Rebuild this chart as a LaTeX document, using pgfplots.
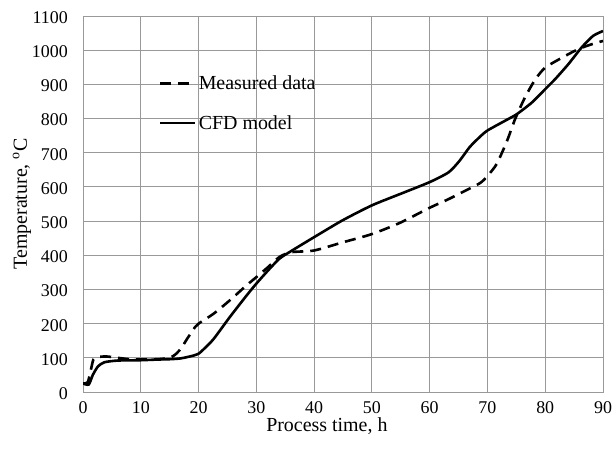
\documentclass[border=0pt]{standalone}
\usepackage{pgfplots}
\pgfplotsset{compat=1.18}
\usepackage{fontspec}
\setmainfont{Liberation Serif}
\begin{document}
\begin{tikzpicture}
\begin{axis}[
  at={(83bp,70bp)}, anchor=south west,
  scale only axis, width=520bp, height=376bp,
  xmin=0, xmax=90, ymin=0, ymax=1100,
  xtick={0,10,...,90}, ytick={0,100,...,1100},
  grid=major, grid style={draw=black!40, line width=0.9bp},
  axis line style={draw=black!40, line width=0.9bp},
  major tick length=0pt,
  tick label style={font=\fontsize{18}{20}\selectfont},
  /pgf/number format/assume math mode=true,
  /pgf/number format/set thousands separator={},
  xticklabel style={anchor=base, yshift=-21bp},
  yticklabel style={anchor=east, inner xsep=0pt, xshift=-15bp, yshift=-1.5bp},
  label style={font=\fontsize{20}{24}\selectfont},
  xlabel={Process time, h},
  ylabel={Temperature, \textsuperscript{o}C},
  xlabel style={at={(axis description cs:0.469,-0.106)}, anchor=base},
  ylabel style={at={(axis description cs:-0.108,0.5)}, anchor=base},
  legend style={draw=none, fill=none, at={(axis cs:13.15,925)}, anchor=north west,
    inner sep=0pt, font=\fontsize{20}{24}\selectfont, row sep=24bp,
    nodes={inner sep=0pt}, /tikz/every odd column/.append style={column sep=2bp}},
  legend cell align=left,
  legend image code/.code={\draw[#1] (0bp,0bp) -- (35bp,0bp);},
]
\addplot[black, line width=2.6bp, dash pattern=on 11bp off 7bp, smooth, tension=0.4] coordinates {
(0,25) (0.8,28) (1.3,60) (1.8,95) (2.5,102) (4,104) (6,100) (8,96) (10,95) (13,96) (15,100) (16,110) (17,128) (18,155) (19.4,190) (20,200) (22.6,229) (25.4,268) (28.3,312) (30,336) (32,365) (34,395) (36,409) (40,414) (45,438) (50,462) (55,496) (60,539) (63,562) (65.6,584) (68.7,611) (70,632) (71.6,667) (73.4,735) (74.8,799) (76.5,862) (78.3,915) (80,949) (82.9,978) (85.7,1003) (88,1017) (90,1027)
};
\addlegendentry{Measured data}
\addplot[black, line width=2.6bp, smooth, tension=0.4] coordinates {
(0,25) (1,22) (1.7,50) (2.6,75) (3.7,87) (6,92) (10,93) (13,95) (15.1,96) (16.8,98) (18,102) (19,106) (20,112) (21,127) (22.6,155) (25.4,219) (28.3,282) (30,317) (32,355) (34,390) (36,412) (40,453) (44.9,502) (50,546) (55,580) (60,614) (63.3,643) (65.2,677) (66.9,716) (68.6,745) (70,765) (73.1,794) (75.1,813) (77.7,847) (80,886) (81.7,915) (84,959) (86.3,1008) (88.3,1042) (90,1056)
};
\addlegendentry{CFD model}
\end{axis}
\pgfresetboundingbox
\path[use as bounding box] (0,0) rectangle (616bp,462bp);
\end{tikzpicture}
\end{document}
